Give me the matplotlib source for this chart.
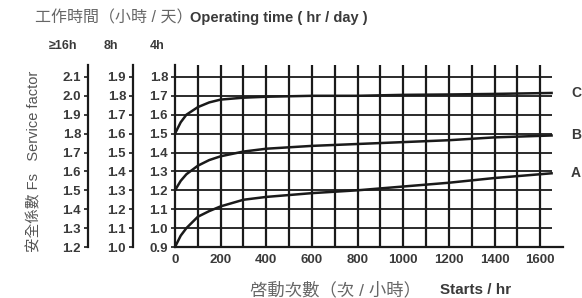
import matplotlib.pyplot as plt

plt.rcParams['font.family'] = ['Liberation Sans', 'Noto Sans CJK TC', 'DejaVu Sans']

# 啓動次數 (starts / hr) 與安全係數
starts = [0, 25, 50, 100, 150, 200, 300, 400, 600, 800, 1000, 1200, 1400, 1650]
fs_a = [0.90, 0.96, 1.00, 1.06, 1.09, 1.115, 1.15, 1.165, 1.185, 1.20, 1.22, 1.24, 1.265, 1.29]
fs_b = [1.20, 1.25, 1.285, 1.33, 1.36, 1.38, 1.405, 1.42, 1.435, 1.445, 1.455, 1.465, 1.48, 1.49]
fs_c = [1.50, 1.56, 1.60, 1.64, 1.665, 1.68, 1.69, 1.695, 1.70, 1.70, 1.705, 1.707, 1.71, 1.715]
curve_names = ['A', 'B', 'C']

x_ticks = [0, 200, 400, 600, 800, 1000, 1200, 1400, 1600]
y_4h = [0.9, 1.0, 1.1, 1.2, 1.3, 1.4, 1.5, 1.6, 1.7, 1.8]
y_8h = [1.0, 1.1, 1.2, 1.3, 1.4, 1.5, 1.6, 1.7, 1.8, 1.9]
y_16h = [1.2, 1.3, 1.4, 1.5, 1.6, 1.7, 1.8, 1.9, 2.0, 2.1]
hours = ['≥16h', '8h', '4h']

W, H = 582, 298
ink = '#1a1a1a'
txt = '#3a3a3a'
tsize = 9.5

fig = plt.figure(figsize=(W / 100, H / 100), dpi=100)
bottom = 1 - 247 / H
height = (247 - 65) / H
ax = fig.add_axes([175 / W, bottom, (563 - 175) / W, height])
ax.set_xlim(0, 1700)
ax.set_ylim(0.9, 0.9 + 0.1 * 182 / 18.9)

# grid
ax.vlines(range(100, 1700, 100), 0.9, ax.get_ylim()[1], color=ink, lw=1.6)
ax.hlines(y_4h[1:], 0, 1650, color=ink, lw=1.3)

for ys, name in zip([fs_a, fs_b, fs_c], curve_names):
    ax.plot(starts, ys, color=ink, lw=1.8)
    ax.text(1735, ys[-1], name, fontsize=10, fontweight='bold', color=txt,
            ha='left', va='center', clip_on=False)

for s in ['top', 'right']:
    ax.spines[s].set_visible(False)
ax.spines['left'].set_linewidth(1.6)
ax.spines['bottom'].set_linewidth(1.6)
ax.spines['left'].set_color(ink)
ax.spines['bottom'].set_color(ink)
ax.set_xticks(x_ticks)
ax.set_xticklabels([str(v) for v in x_ticks])
ax.set_yticks(y_4h)
ax.set_yticklabels(['%.1f' % v for v in y_4h])
ax.tick_params(axis='x', length=0, pad=5, labelsize=tsize, labelcolor=txt)
ax.tick_params(axis='y', length=3, width=1.2, color=ink, pad=2, labelsize=tsize, labelcolor=txt)
for lab in ax.get_xticklabels() + ax.get_yticklabels():
    lab.set_fontweight('bold')

# extra scales for 8h and >=16h
for xpix, vals in [(133, y_8h), (88, y_16h)]:
    a2 = fig.add_axes([xpix / W, bottom, 0.001, height])
    a2.patch.set_visible(False)
    a2.set_ylim(vals[0], vals[0] + 0.1 * 182 / 18.9)
    for s in ['top', 'right', 'bottom']:
        a2.spines[s].set_visible(False)
    a2.spines['left'].set_linewidth(1.6)
    a2.spines['left'].set_color(ink)
    a2.set_xticks([])
    a2.set_yticks(vals)
    a2.set_yticklabels(['%.1f' % v for v in vals])
    a2.tick_params(axis='y', length=3, width=1.2, color=ink, pad=2, labelsize=tsize, labelcolor=txt)
    for lab in a2.get_yticklabels():
        lab.set_fontweight('bold')

for xc, h in zip([63, 111, 157], hours):
    fig.text(xc / W, 1 - 46 / H, h, fontsize=9, fontweight='bold', color=txt,
             ha='center', va='center')

fig.text(35 / W, 1 - 18 / H, '工作時間（小時 / 天）', fontsize=11.5, color='#666666',
         ha='left', va='center')
fig.text(190 / W, 1 - 18 / H, 'Operating time ( hr / day )', fontsize=10.5,
         fontweight='bold', color=txt, ha='left', va='center')

fig.text(34 / W, 1 - 161 / H, '安全係數 Fs   Service factor', fontsize=10.5, color='#555555',
         rotation=90, ha='center', va='center')

fig.text(250 / W, 1 - 290 / H, '啓動次數（次 / 小時）', fontsize=12.5, color='#666666',
         ha='left', va='center')
fig.text(440 / W, 1 - 290 / H, 'Starts / hr', fontsize=11, fontweight='bold', color=txt,
         ha='left', va='center')

fig.savefig('out.png', dpi=100)
